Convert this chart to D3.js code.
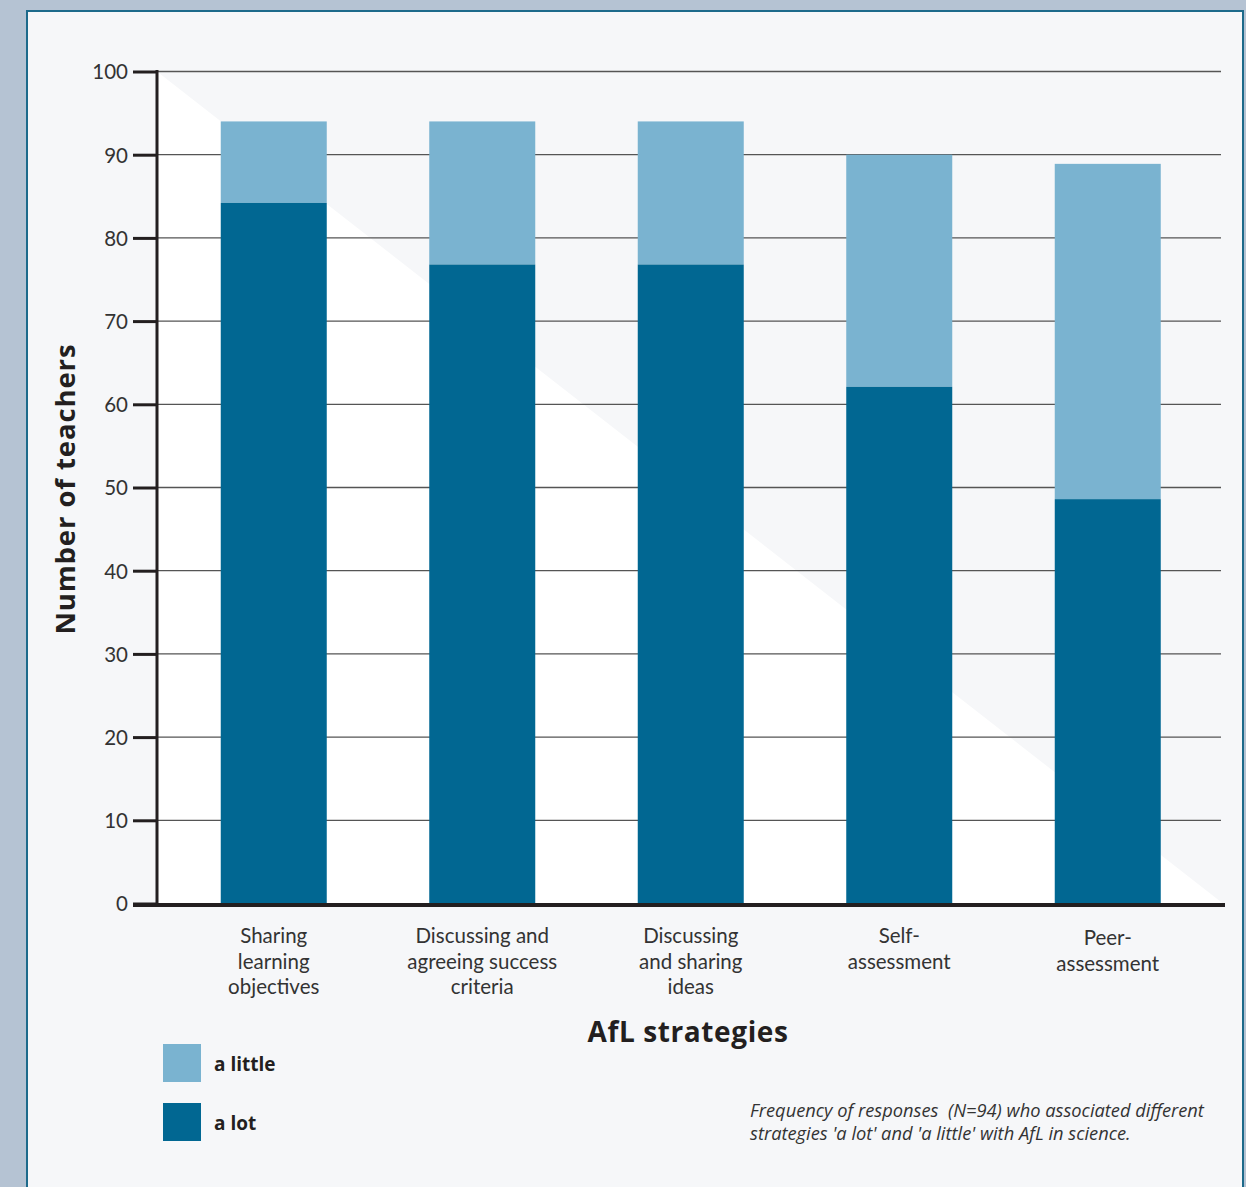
<!DOCTYPE html>
<html><head><meta charset="utf-8">
<script src="https://cdn.jsdelivr.net/npm/d3@7"></script>
<style>
html,body{margin:0;padding:0;background:#b5c3d3;}
svg{display:block;}
</style></head><body>
<script>
const categories = [
  ["Sharing","learning","objectives"],
  ["Discussing and","agreeing success","criteria"],
  ["Discussing","and sharing","ideas"],
  ["Self-","assessment"],
  ["Peer-","assessment"]
];
const aLot    = [84.2, 76.8, 76.8, 62.1, 48.6];
const total   = [94, 94, 94, 90, 88.9];
const yTicks  = [0,10,20,30,40,50,60,70,80,90,100];
const seriesNames = ["a little","a lot"];
const colors = {little:"#7ab3d0", lot:"#016792"};

const W=1246,H=1187;
const svg=d3.select("body").append("svg").attr("width",W).attr("height",H);
const font="Lato, 'Open Sans', sans-serif";
const font2="'Open Sans', Lato, sans-serif";

// panel
svg.append("rect").attr("x",0).attr("y",0).attr("width",W).attr("height",H).attr("fill","#b5c3d3");
svg.append("rect").attr("x",27).attr("y",11).attr("width",1216).attr("height",H).attr("fill","#f6f7f9")
  .attr("stroke","#1d6a8b").attr("stroke-width",2);

const x0=157, x1=1221;
const y=d3.scaleLinear().domain([0,100]).range([903.5,71.5]);
const idx=d3.range(categories.length);
const x=d3.scaleBand().domain(idx).range([169.5,1212]).paddingInner(0.4916).paddingOuter(0.2458);

// white triangle
svg.append("path").attr("d",`M${x0},${y(100)}L${x0},${y(0)}L${x1+2},${y(0)}Z`).attr("fill","#ffffff");

// gridlines
svg.append("g").selectAll("line").data(yTicks.filter(d=>d>0)).join("line")
  .attr("x1",x0).attr("x2",x1).attr("y1",d=>y(d)).attr("y2",d=>y(d))
  .attr("stroke","#555").attr("stroke-width",1.3);

// bars
const g=svg.append("g");
g.selectAll("rect.little").data(idx).join("rect").attr("class","little")
  .attr("x",i=>x(i)).attr("width",x.bandwidth())
  .attr("y",i=>y(total[i])).attr("height",i=>y(aLot[i])-y(total[i]))
  .attr("fill",colors.little);
g.selectAll("rect.lot").data(idx).join("rect").attr("class","lot")
  .attr("x",i=>x(i)).attr("width",x.bandwidth())
  .attr("y",i=>y(aLot[i])).attr("height",i=>y(0)-y(aLot[i]))
  .attr("fill",colors.lot);

// y axis
const yAxis=d3.axisLeft(y).tickValues(yTicks).tickSize(24).tickPadding(5);
const ya=svg.append("g").attr("transform",`translate(${x0},0)`).call(yAxis);
ya.select(".domain").remove();
ya.selectAll(".tick line").attr("stroke","#231f20").attr("stroke-width",3);
ya.selectAll(".tick text").attr("font-family",font).attr("font-size",20.5).attr("fill","#333").attr("dy","0.36em");
svg.append("line").attr("x1",x0).attr("x2",x0).attr("y1",y(100)-1.5).attr("y2",y(0)).attr("stroke","#231f20").attr("stroke-width",3);
svg.append("line").attr("x1",x0-24).attr("x2",1225).attr("y1",y(0)+1.5).attr("y2",y(0)+1.5).attr("stroke","#231f20").attr("stroke-width",4);

// x labels
const xl=svg.append("g");
idx.forEach(i=>{
  const cx=x(i)+x.bandwidth()/2;
  const t=xl.append("text").attr("x",cx).attr("y",i==4?945:943)
    .attr("text-anchor","middle").attr("font-family",font).attr("font-size",20.5).attr("fill","#333");
  categories[i].forEach((ln,k)=>t.append("tspan").attr("x",cx).attr("dy",k?25.5:0).text(ln));
});

// titles
svg.append("text").attr("transform","translate(75,489) rotate(-90)").attr("text-anchor","middle")
  .attr("font-family",font2).attr("font-weight",700).attr("font-size",27.5).attr("letter-spacing",0.9)
  .attr("fill","#231f20").text("Number of teachers");
svg.append("text").attr("x",688).attr("y",1042).attr("text-anchor","middle")
  .attr("font-family",font2).attr("font-weight",700).attr("font-size",28).attr("letter-spacing",0.6)
  .attr("fill","#231f20").text("AfL strategies");

// legend
const leg=[{n:seriesNames[0],c:colors.little,y:1044},{n:seriesNames[1],c:colors.lot,y:1103}];
leg.forEach(l=>{
  svg.append("rect").attr("x",163).attr("y",l.y).attr("width",38).attr("height",38).attr("fill",l.c);
  svg.append("text").attr("x",214).attr("y",l.y+27).attr("font-family",font2).attr("font-weight",700)
    .attr("font-size",19).attr("fill","#231f20").text(l.n);
});

// caption
const cap=svg.append("text").attr("font-family",font2).attr("font-style","italic").attr("font-size",18.3)
  .attr("fill","#333").style("white-space","pre");
cap.append("tspan").attr("x",750).attr("y",1117).text("Frequency of responses  (N=94) who associated different");
cap.append("tspan").attr("x",750).attr("y",1140).text("strategies 'a lot' and 'a little' with AfL in science.");
</script>
</body></html>
